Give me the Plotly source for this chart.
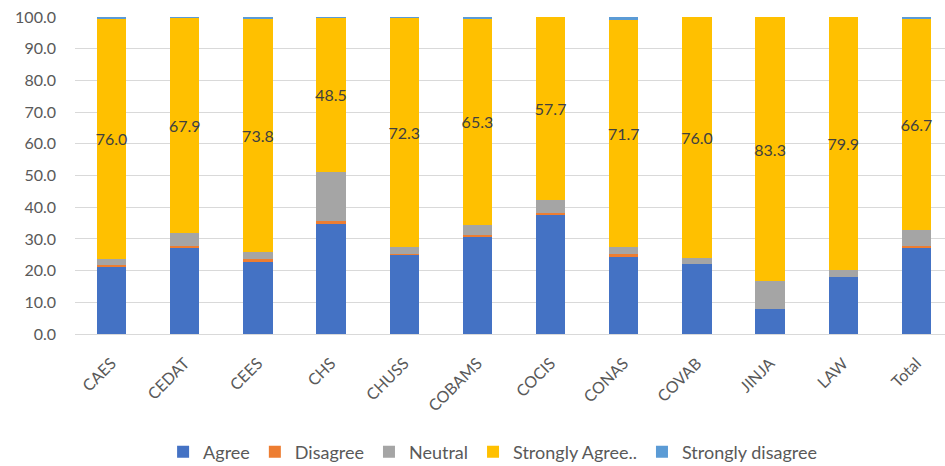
import plotly.graph_objects as go

categories = ["CAES", "CEDAT", "CEES", "CHS", "CHUSS", "COBAMS", "COCIS", "CONAS", "COVAB", "JINJA", "LAW", "Total"]
agree = [21.2, 27.3, 23.0, 34.9, 25.1, 30.6, 37.6, 24.6, 22.0, 8.0, 17.9, 27.3]
disagree = [0.7, 0.6, 0.6, 0.6, 0.1, 0.5, 0.6, 0.5, 0.0, 0.0, 0.0, 0.5]
neutral = [1.7, 3.9, 2.2, 15.7, 2.2, 3.2, 4.1, 2.2, 2.0, 8.7, 2.2, 4.9]
strongly_agree = [76.0, 67.9, 73.8, 48.5, 72.3, 65.3, 57.7, 71.7, 76.0, 83.3, 79.9, 66.7]
strongly_disagree = [0.4, 0.3, 0.4, 0.3, 0.3, 0.4, 0.0, 1.0, 0.0, 0.0, 0.0, 0.6]

series = [
    ("Agree", agree, "#4472C4"),
    ("Disagree", disagree, "#ED7D31"),
    ("Neutral", neutral, "#A5A5A5"),
    ("Strongly Agree..", strongly_agree, "#FFC000"),
    ("Strongly disagree", strongly_disagree, "#5B9BD5"),
]

FONT = "Lato, Open Sans, sans-serif"
fig = go.Figure()
for name, vals, color in series:
    kw = {}
    if name == "Strongly Agree..":
        kw = dict(texttemplate="%{y:.1f}", textposition="inside", insidetextanchor="middle",
                  textangle=0, textfont=dict(color="#404040", size=16, family=FONT),
                  constraintext="none")
    fig.add_trace(go.Bar(x=categories, y=vals, name=name, marker=dict(color=color, line=dict(width=0)),
                         width=0.4, cliponaxis=False, **kw))

fig.update_layout(
    barmode="stack",
    width=945, height=466,
    margin=dict(l=75, r=0, t=17, b=132, autoexpand=False),
    plot_bgcolor="white", paper_bgcolor="white",
    font=dict(family=FONT, size=16, color="#595959"),
    showlegend=True,
    legend=dict(orientation="h", x=0.48, xanchor="center", yref="container", y=0.03, yanchor="middle",
                font=dict(size=18, color="#595959"), traceorder="normal", itemwidth=30),
    xaxis=dict(range=[-0.5, 11.39], tickangle=-45, showgrid=False, showline=False, automargin=False,
               ticks="", ticklabelstandoff=16, tickfont=dict(size=16, color="#595959")),
    yaxis=dict(range=[0, 100], dtick=10, tickformat=".1f", showgrid=True, gridcolor="#D9D9D9",
               gridwidth=1, zeroline=True, zerolinecolor="#D9D9D9", zerolinewidth=1, automargin=False,
               ticks="", ticklabelstandoff=18, tickfont=dict(size=16, color="#595959")),
)

fig.write_html("out.html")
